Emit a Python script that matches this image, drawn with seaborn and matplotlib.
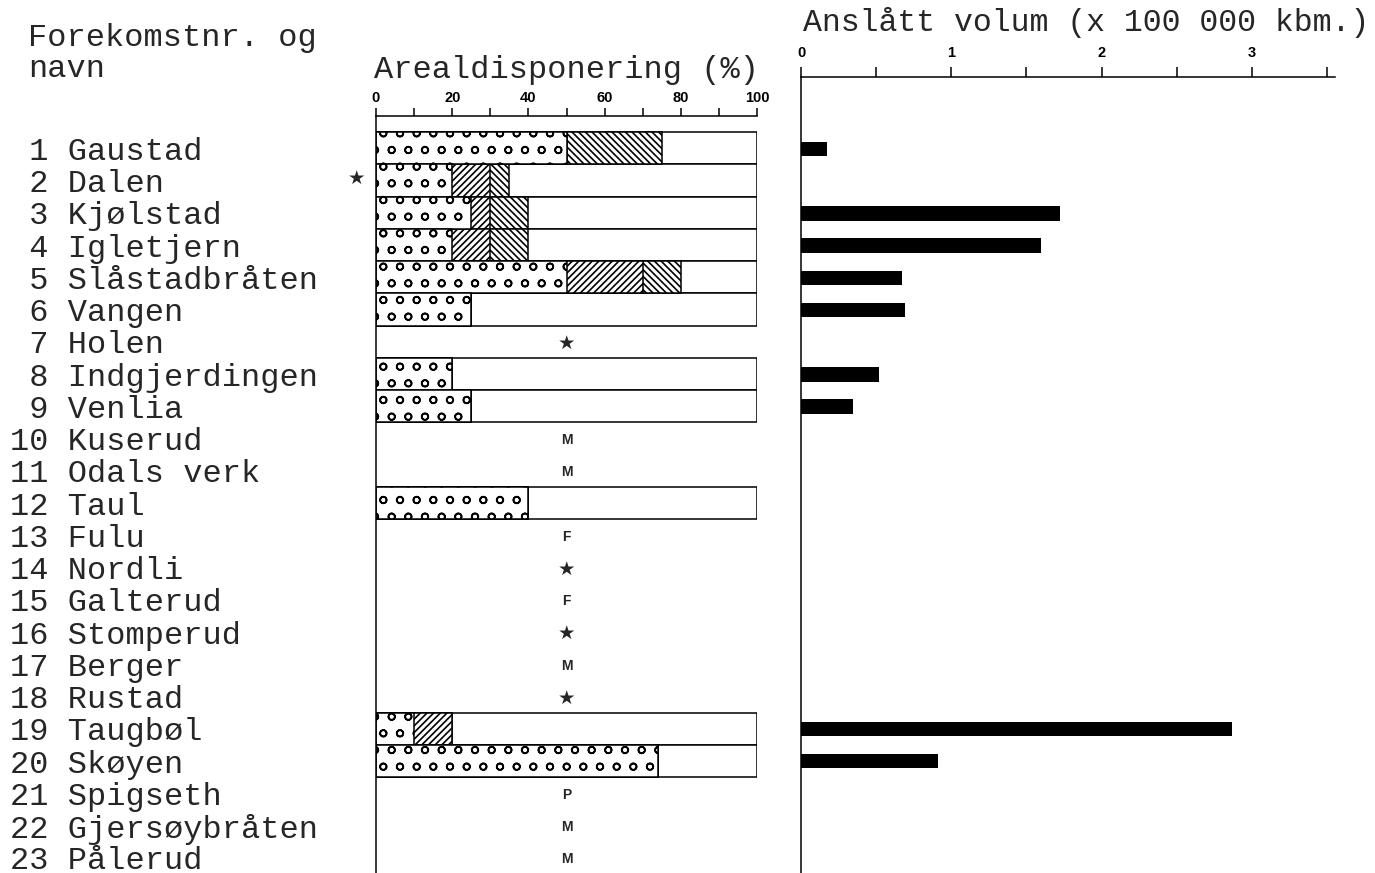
import numpy as np
import pandas as pd
import matplotlib
matplotlib.use("Agg")
import matplotlib.pyplot as plt
import seaborn as sns

# ---------------- data ----------------
names = ["Gaustad", "Dalen", "Kjølstad", "Igletjern", "Slåstadbråten", "Vangen",
         "Holen", "Indgjerdingen", "Venlia", "Kuserud", "Odals verk", "Taul",
         "Fulu", "Nordli", "Galterud", "Stomperud", "Berger", "Rustad",
         "Taugbøl", "Skøyen", "Spigseth", "Gjersøybråten", "Pålerud"]
nan = np.nan
# area disposition (%), segments in order: gravel, forward hatch, backward hatch
gravel = [50, 20, 25, 20, 50, 25, nan, 20, 25, nan, nan, 40,
          nan, nan, nan, nan, nan, nan, 10, 74, nan, nan, nan]
seg_fwd = [0, 10, 5, 10, 20, 0, nan, 0, 0, nan, nan, 0,
           nan, nan, nan, nan, nan, nan, 10, 0, nan, nan, nan]
seg_back = [25, 5, 10, 10, 10, 0, nan, 0, 0, nan, nan, 0,
            nan, nan, nan, nan, nan, nan, 0, 0, nan, nan, nan]
notes = ["", "", "", "", "", "", "★", "", "", "M", "M", "",
         "F", "★", "F", "★", "M", "★", "", "", "P", "M", "M"]
side_star = ["", "★"] + [""] * 21
# estimated volume (x 100 000 kbm.)
volume = [0.17, nan, 1.72, 1.60, 0.67, 0.69, nan, 0.52, 0.345, nan, nan, nan,
          nan, nan, nan, nan, nan, nan, 2.87, 0.91, nan, nan, nan]

left_ticks = [0, 10, 20, 30, 40, 50, 60, 70, 80, 90, 100]
left_ticklabels = ["0", "", "20", "", "40", "", "60", "", "80", "", "100"]
right_ticks = [0, 0.5, 1, 1.5, 2, 2.5, 3, 3.5]
right_ticklabels = ["0", "", "1", "", "2", "", "3", ""]

# ---------------- style ----------------
sns.set_style("white")
plt.rcParams["font.family"] = ["Liberation Mono", "DejaVu Sans"]
plt.rcParams["hatch.linewidth"] = 1.2
MONO = ["Liberation Mono", "DejaVu Sans"]
SANS = ["Liberation Sans", "DejaVu Sans"]

W, H = 1375, 873
fig = plt.figure(figsize=(W / 100, H / 100), dpi=100)
ax_l = fig.add_axes([376 / W, 0, 381 / W, 757 / H])
ax_r = fig.add_axes([801 / W, 0, 3.55 * 150.3 / W, 796 / H])

df = pd.DataFrame({"name": names, "gravel": gravel, "fwd": seg_fwd,
                   "back": seg_back, "volume": volume})
df["total"] = np.where(df["gravel"].notna(), 100.0, np.nan)
df["cum3"] = df["gravel"] + df["fwd"] + df["back"]
df["cum2"] = df["gravel"] + df["fwd"]

layers = [("total", ""), ("cum3", "\\\\\\\\\\"), ("cum2", "/////"),
          ("gravel", "o")]
for col, hatch in layers:
    d = df.dropna(subset=[col])
    d = d[d[col] > 0]
    sns.barplot(data=d, x=col, y="name", order=names, orient="h",
                color="white", saturation=1, edgecolor="black", linewidth=1.1,
                width=1.0, hatch=hatch if hatch else None, errorbar=None,
                ax=ax_l)

# right panel
dv = df.dropna(subset=["volume"])
sns.barplot(data=dv, x="volume", y="name", order=names, orient="h",
            color="black", saturation=1, width=0.45, errorbar=None,
            linewidth=0, ax=ax_r)

# ---------------- axes formatting ----------------
ax_l.set_xlim(0, 100)
ax_l.set_ylim(22.47, -1.0)
ax_r.set_xlim(0, 3.55)
ax_r.set_ylim(22.47, -2.233)

for ax in (ax_l, ax_r):
    ax.set_xlabel("")
    ax.set_ylabel("")
    ax.xaxis.tick_top()
    for s in ("right", "bottom"):
        ax.spines[s].set_visible(False)
    for s in ("left", "top"):
        ax.spines[s].set_visible(True)
        ax.spines[s].set_color("black")
        ax.spines[s].set_linewidth(1.1)
    ax.patch.set_alpha(0)

ax_l.set_xticks(left_ticks)
ax_l.set_xticklabels(left_ticklabels, fontfamily=SANS, fontweight="bold",
                     fontsize=10.5)
ax_l.tick_params(axis="x", direction="out", length=6, width=1.1, pad=2,
                 colors="black")
ax_r.set_xticks(right_ticks)
ax_r.set_xticklabels(right_ticklabels, fontfamily=SANS, fontweight="bold",
                     fontsize=10.5)
ax_r.tick_params(axis="x", direction="out", length=7, width=1.1, pad=5,
                 colors="black")

# row labels
ax_l.set_yticks(range(len(names)))
ax_l.set_yticklabels([f"{i + 1:>2} {n}" for i, n in enumerate(names)],
                     fontfamily=MONO, fontsize=23, ha="left")
ax_l.tick_params(axis="y", length=0, pad=263.5)
ax_r.set_yticks([])

# symbols inside the left panel
for i, s in enumerate(notes):
    if s == "★":
        ax_l.text(50, i + 0.05, s, ha="center", va="center", fontsize=14,
                  fontfamily=["DejaVu Sans"])
    elif s:
        ax_l.text(50, i + 0.05, s, ha="center", va="center", fontsize=10,
                  fontweight="bold", fontfamily=SANS)
for i, s in enumerate(side_star):
    if s:
        ax_l.text(-5, i - 0.05, s, ha="center", va="center", fontsize=14,
                  fontfamily=["DejaVu Sans"], clip_on=False)

# titles
fig.text(28 / W, 1 - 38 / H, "Forekomstnr. og", fontfamily=MONO, fontsize=23,
         ha="left", va="center")
fig.text(28 / W, 1 - 69 / H, "navn", fontfamily=MONO, fontsize=23,
         ha="left", va="center")
ax_l.text(0.5, 1 + 46 / 757, "Arealdisponering (%)", transform=ax_l.transAxes,
          fontfamily=MONO, fontsize=23, ha="center", va="center")
ax_r.text((1086.5 - 801) / (3.55 * 150.3), 1 + 55 / 796,
          "Anslått volum (x 100 000 kbm.)", transform=ax_r.transAxes,
          fontfamily=MONO, fontsize=22.7, ha="center", va="center")

fig.savefig("out.png", dpi=100, facecolor="white")
